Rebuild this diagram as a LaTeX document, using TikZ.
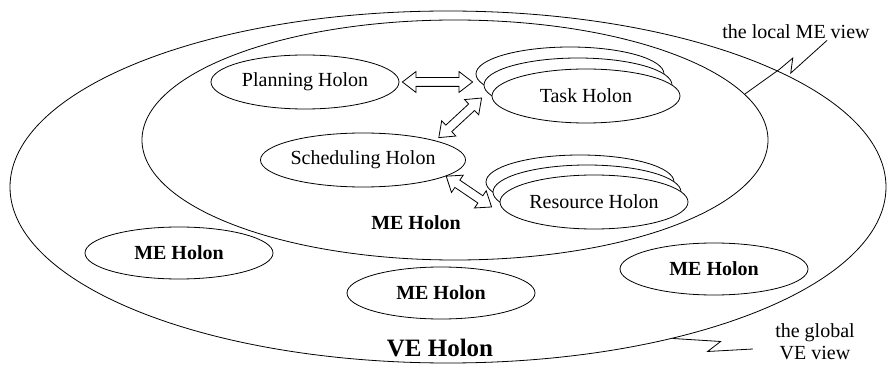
\documentclass[tikz,border=0pt]{standalone}
\usepackage{fontspec}
\setmainfont{Liberation Serif}
\usetikzlibrary{shapes.geometric,shapes.arrows,calc}
\tikzset{
  holon/.style={draw,ellipse,fill=white,inner sep=0pt,minimum width=188pt,minimum height=54pt,font=\fontsize{20}{24}\selectfont},
  meholon/.style={holon,minimum height=52pt,font=\fontsize{20}{24}\selectfont\bfseries},
  holarrow/.style={draw,double arrow,fill=white,inner xsep=0pt,inner ysep=4pt,double arrow head extend=6pt,double arrow tip angle=75},
  viewlabel/.style={font=\fontsize{20}{22}\selectfont,align=center,inner sep=1pt}
}
\newcommand{\holarrow}[2]{%
  \path let \p1=(#1), \p2=(#2), \n1={atan2(\y2-\y1,\x2-\x1)}, \n2={veclen(\x2-\x1,\y2-\y1)} in
    node[holarrow,rotate=\n1,minimum height=\n2] at ($(\p1)!0.5!(\p2)$) {};}
\begin{document}
\begin{tikzpicture}[x=1pt,y=-1pt,line width=.8pt]
\useasboundingbox (0,0) rectangle (889,366);
\node[draw,ellipse,inner sep=0pt,minimum width=876pt,minimum height=352pt] (ve) at (448,187) {};
\node[draw,ellipse,inner sep=0pt,minimum width=626pt,minimum height=240pt] (me) at (455,140) {};
\node[holon] (plan) at (305,82) {Planning Holon};
\node[holon] (task3) at (570,74) {};
\node[holon] (task2) at (578,85) {};
\node[holon] (task) at (586,96) {Task Holon};
\node[holon] (sched) at (363,160) {Scheduling Holon};
\node[holon] (res3) at (580,182) {};
\node[holon] (res2) at (587,192) {};
\node[holon] (res) at (594,202) {Resource Holon};
\node[font=\fontsize{20}{24}\selectfont\bfseries] (melbl) at (416,223) {ME Holon};
\node[meholon] (me1) at (179,253) {ME Holon};
\node[meholon] (me2) at (441,293) {ME Holon};
\node[meholon] (me3) at (714,269) {ME Holon};
\node[font=\fontsize{25}{30}\selectfont\bfseries] (velbl) at (440,348) {VE Holon};
\holarrow{[xshift=3pt]plan.east}{$(plan.east -| task3.west)+(-3,0)$}
\holarrow{$(task3.west)+(6,24)$}{$(sched.north east)+(3,-3)$}
\holarrow{sched.-11}{$(res.west)+(-8,5)$}
\node[viewlabel] (localview) at (796,32) {the local ME view};
\node[viewlabel] (globalview) at (815,342) {the global\\VE view};
\draw (me.9) -- ++(35,-25) -- ++(13,-11) -- ++(-2,15) -- ([xshift=31pt]localview.south);
\draw (ve.-34) -- ++(48,3) -- ++(-13,10) -- ($(globalview.west)+(-21,7)$);
\end{tikzpicture}
\end{document}
